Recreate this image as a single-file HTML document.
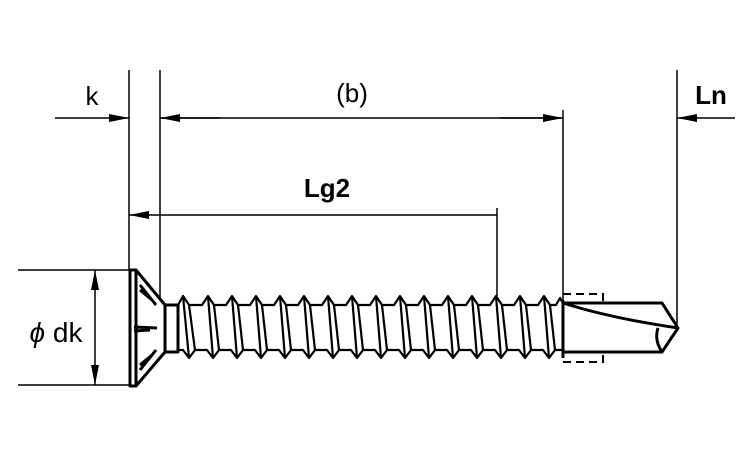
<!DOCTYPE html>
<html><head><style>body{margin:0;background:#fff}svg{display:block}</style></head><body>
<svg width="750" height="450" viewBox="0 0 750 450" xmlns="http://www.w3.org/2000/svg" font-family="Liberation Sans, sans-serif">
<defs><marker id="a" markerWidth="20" markerHeight="10" refX="20" refY="5" orient="auto" markerUnits="userSpaceOnUse"><path d="M0,1 L20,5 L0,9 Z" fill="#000"/></marker></defs>
<g stroke="#000" stroke-width="1.5" fill="none">
<line x1="129" y1="70" x2="129" y2="270"/>
<line x1="160" y1="70" x2="160" y2="300"/>
<line x1="563" y1="110" x2="563" y2="300"/>
<line x1="677" y1="70" x2="677" y2="325"/>
<line x1="497" y1="208" x2="497" y2="296"/>
<line x1="55" y1="118" x2="129" y2="118" marker-end="url(#a)"/>
<line x1="160" y1="118" x2="563" y2="118"/>
<line x1="220" y1="118" x2="160" y2="118" marker-end="url(#a)"/>
<line x1="500" y1="118" x2="563" y2="118" marker-end="url(#a)"/>
<line x1="735" y1="118" x2="677" y2="118" marker-end="url(#a)"/>
<line x1="497" y1="215" x2="129" y2="215" marker-end="url(#a)"/>
<line x1="18" y1="270" x2="130" y2="270"/>
<line x1="18" y1="385" x2="130" y2="385"/>
<line x1="95" y1="330" x2="95" y2="270" marker-end="url(#a)"/>
<line x1="95" y1="330" x2="95" y2="385" marker-end="url(#a)"/>
</g>
<g stroke="#000" stroke-width="3" fill="none" stroke-linejoin="round">
<path d="M130,270 L130,386 L136,386 L165,352 L165,305 L136,270 Z"/>
<path d="M136,270 L136,386"/>
<path d="M140,285 L156,305 M140,290 L152,300 M140,370 L156,350 M140,365 L152,355 M134,327 L157,328 M134,331 L150,330"/>
<path d="M165,305 L178,305 L178,352 L165,352"/>
<path id="th" d=""/>
<path d="M563,303 L662,303 L678,328 L662,352 L563,352 Z"/>
<path d="M563,303 Q610,318 678,328 M658,328 Q654,340 662,352"/>
<line x1="563" y1="300" x2="563" y2="358"/>
</g>
<g stroke="#000" stroke-width="2" fill="none" stroke-dasharray="8,5">
<path d="M563,294 L603,294 L603,303 M563,362 L603,362 L603,352"/>
</g>
<g stroke="#000" stroke-width="2.2" fill="none" stroke-linejoin="round">
<path d="M178,305 L183,296 L189,305 L202,305 L208,296 L214,305 L226,305 L232,296 L238,305 L250,305 L256,296 L262,305 L274,305 L280,296 L286,305 L298,305 L304,296 L310,305 L322,305 L328,296 L334,305 L346,305 L352,296 L358,305 L370,305 L376,296 L382,305 L394,305 L400,296 L406,305 L418,305 L424,296 L430,305 L442,305 L448,296 L454,305 L466,305 L472,296 L478,305 L490,305 L496,296 L502,305 L514,305 L520,296 L526,305 L538,305 L544,296 L550,305 L556,305 L560,298 L563,303"/>
<path d="M178,350 L183,350 L189,358 L195,350 L207,350 L213,358 L219,350 L231,350 L237,358 L243,350 L255,350 L261,358 L267,350 L279,350 L285,358 L291,350 L303,350 L309,358 L315,350 L327,350 L333,358 L339,350 L351,350 L357,358 L363,350 L375,350 L381,358 L387,350 L399,350 L405,358 L411,350 L423,350 L429,358 L435,350 L447,350 L453,358 L459,350 L471,350 L477,358 L483,350 L495,350 L501,358 L507,350 L519,350 L525,358 L531,350 L543,350 L549,358 L555,350 L563,350"/>
<path d="M183,296 L189,358 M189,305 L195,350 M208,296 L213,358 M214,305 L219,350 M232,296 L237,358 M238,305 L243,350 M256,296 L261,358 M262,305 L267,350 M280,296 L285,358 M286,305 L291,350 M304,296 L309,358 M310,305 L315,350 M328,296 L333,358 M334,305 L339,350 M352,296 L357,358 M358,305 L363,350 M376,296 L381,358 M382,305 L387,350 M400,296 L405,358 M406,305 L411,350 M424,296 L429,358 M430,305 L435,350 M448,296 L453,358 M454,305 L459,350 M472,296 L477,358 M478,305 L483,350 M496,296 L501,358 M502,305 L507,350 M520,296 L525,358 M526,305 L531,350 M544,296 L549,358 M550,305 L555,350"/>
</g>
<g fill="#000">
<text x="92" y="105" font-size="26" text-anchor="middle">k</text>
<text x="352" y="102" font-size="26" text-anchor="middle">(b)</text>
<text x="711" y="104" font-size="26" font-weight="bold" text-anchor="middle">Ln</text>
<text x="327" y="197" font-size="26" font-weight="bold" text-anchor="middle">Lg2</text>
<text x="56" y="342" font-size="28" text-anchor="middle"><tspan font-style="italic">ϕ</tspan> dk</text>
</g>
</svg>
</body></html>
